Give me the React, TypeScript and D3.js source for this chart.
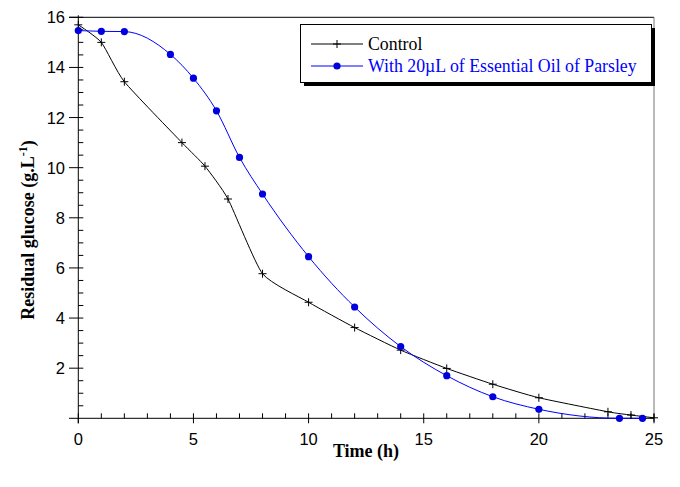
import React, { useEffect, useRef } from 'react';
import * as d3 from 'd3';

// Control (no oil)
const controlTime = [0, 1, 2, 4.5, 5.5, 6.5, 8, 10, 12, 14, 16, 18, 20, 23, 24, 25];
const controlGlucose = [15.7, 15.0, 13.43, 11.0, 10.06, 8.75, 5.77, 4.63, 3.62, 2.72, 1.99, 1.36, 0.82, 0.26, 0.13, 0.02];

// With 20µL of essential oil of parsley
const oilTime = [0, 1, 2, 4, 5, 6, 7, 8, 10, 12, 14, 16, 18, 20, 23.5, 24.5];
const oilGlucose = [15.47, 15.44, 15.43, 14.52, 13.57, 12.27, 10.41, 8.95, 6.45, 4.44, 2.86, 1.7, 0.86, 0.36, 0.0, 0.0];

const xMajor = [0, 5, 10, 15, 20, 25];
const yMajor = [2, 4, 6, 8, 10, 12, 14, 16];

const legendLabels = ['Control', 'With 20µL of Essential Oil of Parsley'];

const serif = '"Liberation Serif", "Times New Roman", serif';
const sans = '"Liberation Sans", Arial, sans-serif';

const App = () => {
  const svgRef = useRef<SVGSVGElement | null>(null);

  useEffect(() => {
    const width = 680;
    const height = 487;
    const svg = d3.select(svgRef.current).attr('width', width).attr('height', height);
    svg.selectAll('*').remove();

    const x = d3.scaleLinear().domain([0, 25]).range([78.3, 654]);
    const y = d3.scaleLinear().domain([0, 16]).range([418.3, 17.3]);

    // frame: top line and right line
    svg.append('line')
      .attr('x1', 69).attr('x2', x(25)).attr('y1', y(16)).attr('y2', y(16))
      .attr('stroke', '#000').attr('stroke-width', 1);
    svg.append('line')
      .attr('x1', x(25)).attr('x2', x(25)).attr('y1', y(16)).attr('y2', y(0))
      .attr('stroke', '#777').attr('stroke-width', 1);

    // X axis
    svg.append('line')
      .attr('x1', 69).attr('x2', x(25)).attr('y1', y(0)).attr('y2', y(0))
      .attr('stroke', '#000');
    const xMinor = d3.range(0, 26, 1).filter(v => v % 5 !== 0);
    svg.selectAll('.xminor').data(xMinor).enter().append('line')
      .attr('x1', d => x(d)).attr('x2', d => x(d))
      .attr('y1', y(0)).attr('y2', y(0) - 5)
      .attr('stroke', '#000');
    svg.selectAll('.xmajor').data(xMajor).enter().append('line')
      .attr('x1', d => x(d)).attr('x2', d => x(d))
      .attr('y1', y(0) - 5).attr('y2', y(0) + 5)
      .attr('stroke', '#000');
    svg.selectAll('.xlab').data(xMajor).enter().append('text')
      .attr('x', d => x(d)).attr('y', y(0) + 27)
      .attr('text-anchor', 'middle')
      .attr('font-family', sans).attr('font-size', 16.5)
      .text(d => d);

    // Y axis
    svg.append('line')
      .attr('x1', x(0)).attr('x2', x(0)).attr('y1', y(16) - 2).attr('y2', y(0) + 5)
      .attr('stroke', '#000');
    const yMinor = d3.range(0.5, 16, 0.5).filter(v => v % 2 !== 0);
    svg.selectAll('.yminor').data(yMinor).enter().append('line')
      .attr('x1', x(0)).attr('x2', x(0) + 5)
      .attr('y1', d => y(d)).attr('y2', d => y(d))
      .attr('stroke', '#000');
    svg.selectAll('.ymajor').data(yMajor).enter().append('line')
      .attr('x1', 69).attr('x2', x(0) + 5)
      .attr('y1', d => y(d)).attr('y2', d => y(d))
      .attr('stroke', '#000');
    svg.selectAll('.ylab').data(yMajor).enter().append('text')
      .attr('x', 65).attr('y', d => y(d) + 6)
      .attr('text-anchor', 'end')
      .attr('font-family', sans).attr('font-size', 16.5)
      .text(d => d);

    // axis titles
    svg.append('text')
      .attr('x', 366).attr('y', 457)
      .attr('text-anchor', 'middle')
      .attr('font-family', serif).attr('font-size', 18).attr('font-weight', 'bold')
      .text('Time (h)');

    const yTitle = svg.append('text')
      .attr('transform', 'translate(34,230) rotate(-90)')
      .attr('text-anchor', 'middle')
      .attr('font-family', serif).attr('font-size', 18).attr('font-weight', 'bold');
    yTitle.append('tspan').text('Residual glucose (g.L');
    yTitle.append('tspan').attr('dy', -7).attr('font-size', 12).text('-1');
    yTitle.append('tspan').attr('dy', 7).text(')');

    const control: [number, number][] = controlTime.map((t, i) => [t, controlGlucose[i]]);
    const oil: [number, number][] = oilTime.map((t, i) => [t, oilGlucose[i]]);

    const controlLine = d3.line<[number, number]>()
      .x(d => x(d[0]))
      .y(d => y(d[1]))
      .curve(d3.curveCardinal.tension(0.45));
    const oilLine = d3.line<[number, number]>()
      .x(d => x(d[0]))
      .y(d => y(d[1]))
      .curve(d3.curveMonotoneX);

    svg.append('path').datum(control)
      .attr('d', controlLine).attr('fill', 'none').attr('stroke', '#000').attr('stroke-width', 1);
    svg.append('path').datum(oil)
      .attr('d', oilLine).attr('fill', 'none').attr('stroke', '#0000ff').attr('stroke-width', 1);

    const plus = (g: any, cx: number, cy: number) => {
      g.append('path')
        .attr('d', `M${cx - 4},${cy}H${cx + 4}M${cx},${cy - 4}V${cy + 4}`)
        .attr('stroke', '#000').attr('stroke-width', 1).attr('fill', 'none');
    };
    const markers = svg.append('g');
    control.forEach(d => plus(markers, x(d[0]), y(d[1])));
    svg.selectAll('.dot').data(oil).enter().append('circle')
      .attr('cx', d => x(d[0])).attr('cy', d => y(d[1]))
      .attr('r', 3.6).attr('fill', '#0000dd');

    // legend
    const lg = svg.append('g');
    lg.append('rect').attr('x', 304).attr('y', 28).attr('width', 351).attr('height', 58).attr('fill', '#000');
    lg.append('rect').attr('x', 300.5).attr('y', 24.5).attr('width', 351).attr('height', 58)
      .attr('fill', '#fff').attr('stroke', '#000');
    const rows = [
      { label: legendLabels[0], color: '#000', yy: 44 },
      { label: legendLabels[1], color: '#0000ff', yy: 66 },
    ];
    rows.forEach((r, i) => {
      lg.append('line').attr('x1', 311).attr('x2', 363).attr('y1', r.yy).attr('y2', r.yy)
        .attr('stroke', r.color);
      if (i === 0) plus(lg, 337, r.yy);
      else lg.append('circle').attr('cx', 337).attr('cy', r.yy).attr('r', 3.6).attr('fill', '#0000dd');
      lg.append('text').attr('x', 368).attr('y', r.yy + 5.5)
        .attr('font-family', serif).attr('font-size', 17.8).attr('fill', r.color)
        .text(r.label);
    });
  }, []);

  return (
    <div style={{ position: 'absolute', left: 0, top: 0 }}>
      <svg ref={svgRef} width={680} height={487} style={{ display: 'block' }}></svg>
    </div>
  );
};

export default App;
